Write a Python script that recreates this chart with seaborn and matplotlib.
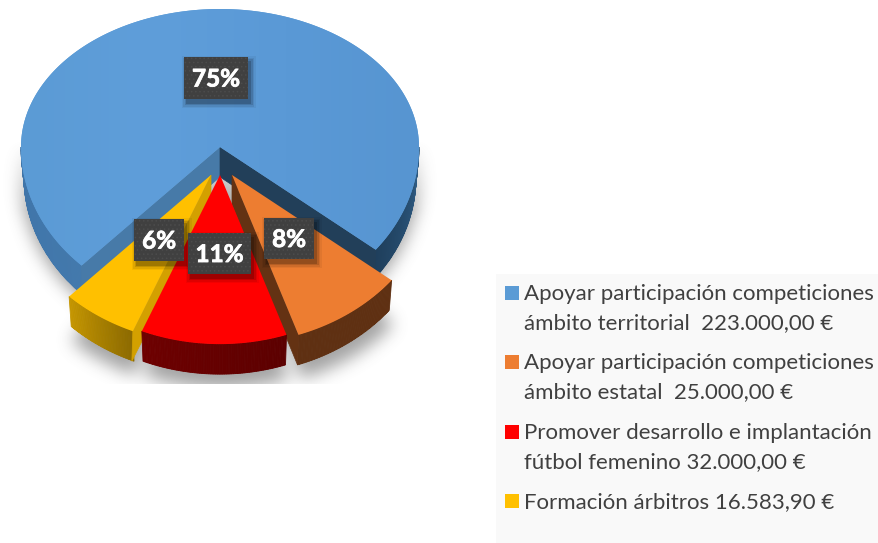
import numpy as np
import matplotlib
matplotlib.use('Agg')
import matplotlib.pyplot as plt
import matplotlib.colors as mc
import matplotlib.patheffects as pe
from matplotlib.path import Path
from matplotlib.patches import Polygon, Rectangle
import seaborn as sns

# Data
labels = ['Apoyar participación competiciones\námbito territorial  223.000,00 €',
          'Apoyar participación competiciones\námbito estatal  25.000,00 €',
          'Promover desarrollo e implantación\nfútbol femenino 32.000,00 €',
          'Formación árbitros 16.583,90 €']
values = [223000.00, 25000.00, 32000.00, 16583.90]
colors = ['#5B9BD5', '#ED7D31', '#FF0000', '#FFC000']

# Layout (pixels of the reference)
W, H = 879, 543
RX, RY_BACK, RY_FRONT = 199, 138, 165
DEPTH = 30
START = 51.5   # angle of the blue edge on the right, measured from straight down
WARP = 1.07    # perspective widens the front slices a little
FRONT_SCALE = 1.025  # pulled out slices come closer, so they look bigger
apexes = [(220, 147), (232, 175), (220, 175), (211, 175)]
label_boxes = [(184, 57, 64, 42), (264, 218, 50, 41), (188, 233, 63, 41), (134, 219, 50, 42)]
legend_y = [293, 362, 432, 501]
text_col = '#404040'

sns.set_theme(style='white')
plt.rcParams['font.family'] = ['Lato', 'DejaVu Sans']

fig = plt.figure(figsize=(W / 100, H / 100), dpi=100)
ax = fig.add_axes([0, 0, 1, 1])
ax.set_xlim(0, W)
ax.set_ylim(H, 0)
ax.axis('off')


def arc(apex, t1, t2, n=120, scale=1.0, shrink=1.0, drop=0):
    t = np.radians(np.linspace(t1, t2, n))
    ry = np.where(np.cos(t) > 0, RY_FRONT, RY_BACK) * scale
    x = apex[0] + RX * scale * shrink * np.sin(t)
    y = apex[1] + ry * np.cos(t) + drop
    return np.column_stack([x, y])


def blur(img, passes=3, size=15):
    kernel = np.ones(size) / size
    for _ in range(passes):
        img = np.apply_along_axis(lambda r: np.convolve(r, kernel, mode='same'), 0, img)
        img = np.apply_along_axis(lambda r: np.convolve(r, kernel, mode='same'), 1, img)
    return img


def rim(apex, t1, t2, col1, col2, zorder, scale=1.0):
    # side wall of a slice, a strip of small quads shaded along the arc
    steps = max(int(abs(t2 - t1)), 2) * 2
    edges = np.linspace(t1, t2, steps + 1)
    c1, c2 = np.array(mc.to_rgb(col1)), np.array(mc.to_rgb(col2))
    for i in range(steps):
        top = arc(apex, edges[i], edges[i + 1], n=4, scale=scale)
        bottom = arc(apex, edges[i + 1], edges[i], n=4, scale=scale, shrink=0.985, drop=DEPTH)
        c = c1 + (c2 - c1) * i / max(steps - 1, 1)
        ax.add_patch(Polygon(np.vstack([top, bottom]), fc=c, ec=c, lw=0.6, zorder=zorder))


def wall(apex, end, col, zorder, scale=1.0):
    p = arc(apex, end, end, n=1, scale=scale)[0]
    pts = [apex, p, (p[0] - 1, p[1] + DEPTH), (apex[0], apex[1] + DEPTH)]
    ax.add_patch(Polygon(pts, fc=col, ec=col, lw=0.5, zorder=zorder))


# Slice angles come from the values
total = sum(values)
shares = [v / total for v in values]
ends = [START]
for s in shares[1:]:
    ends.append(ends[-1] - s * 360 * WARP)
orange = (ends[0], ends[1])
red = (ends[1], ends[2])
yellow = (ends[2], ends[3])
blue = (START, ends[3] + 360)

# Legend panel
ax.add_patch(Rectangle((496, 274), W - 496, H - 274, fc='#F9F9F9', ec='none', zorder=0))
for lab, col, y in zip(labels, colors, legend_y):
    ax.add_patch(Rectangle((505, y - 7), 14, 14, fc=col, ec='none', zorder=1))
    ax.text(524, y - 9, lab, fontsize=16, color=text_col, va='top', ha='left',
            linespacing=1.54, zorder=2)

# Soft shadow under the pie, the picture cuts it off near the bottom
yy, xx = np.mgrid[0:H, 0:W]
grid = np.column_stack([xx.ravel(), yy.ravel()])
shadow = np.zeros((H, W))
shadow[((xx - 218) / 200.0) ** 2 + ((yy - 172) / 175.0) ** 2 < 1] = 1.0
for ap, (a, b) in zip(apexes[1:], [orange, red, yellow]):
    poly = np.vstack([[ap], arc(ap, a, b, n=40, scale=FRONT_SCALE, drop=DEPTH + 12)])
    shadow[Path(poly).contains_points(grid).reshape(H, W)] = 1.0
shadow = blur(shadow, passes=3, size=16)
shadow[yy > 383] = 0
shadow *= np.clip((yy - 140) / 70.0, 0, 1)  # fades out going up the sides
rgba = np.zeros((H, W, 4))
rgba[..., :3] = 0.42
rgba[..., 3] = shadow * 0.62
ax.imshow(rgba, extent=(0, W, H, 0), aspect='auto', zorder=0.5, interpolation='bilinear')
ax.set_xlim(0, W)
ax.set_ylim(H, 0)

# Blue slice
rim(apexes[0], blue[0], 90, '#1F3F5C', '#2F5C84', 3)
rim(apexes[0], 270, blue[1], '#3F74A8', '#4379AD', 3)
wall(apexes[0], blue[1], '#477AA8', 4)
wall(apexes[0], blue[0], '#223F59', 4)
outline = np.vstack([[apexes[0]], arc(apexes[0], blue[0], blue[1], n=300)])
top = Polygon(outline, fc=colors[0], ec='none', zorder=5)
ax.add_patch(top)
grad = np.linspace(0, 1, 300)[None, :]
cmap = mc.LinearSegmentedColormap.from_list('b', ['#5B9BD5', '#5F9EDA', '#5A99D6', '#5795D1'])
im = ax.imshow(grad, cmap=cmap, extent=(20, 420, 290, 5), aspect='auto', zorder=5.1)
im.set_clip_path(top)
ax.set_xlim(0, W)
ax.set_ylim(H, 0)

# Yellow slice
rim(apexes[3], yellow[0], yellow[1], '#8C6A00', '#C49500', 6, FRONT_SCALE)
wall(apexes[3], yellow[0], '#D3A000', 6.1, FRONT_SCALE)
ax.add_patch(Polygon(np.vstack([[apexes[3]], arc(apexes[3], *yellow, scale=FRONT_SCALE)]),
                     fc=colors[3], ec='none', zorder=6.2))

# Orange slice
rim(apexes[1], orange[0], orange[1], '#5F3012', '#5F3012', 7, FRONT_SCALE)
wall(apexes[1], orange[1], '#643213', 7.1, FRONT_SCALE)
ax.add_patch(Polygon(np.vstack([[apexes[1]], arc(apexes[1], *orange, scale=FRONT_SCALE)]),
                     fc=colors[1], ec='none', zorder=7.2))

# Red slice
rim(apexes[2], red[0], red[1], '#5C0000', '#6E0000', 8, FRONT_SCALE)
ax.add_patch(Polygon(np.vstack([[apexes[2]], arc(apexes[2], *red, scale=FRONT_SCALE)]),
                     fc=colors[2], ec='none', zorder=8.2))

# Percent labels
plt.rcParams['hatch.linewidth'] = 0.6
for share, (x, y, w, h) in zip(shares, label_boxes):
    for grow, alpha in [(5, 0.05), (3.5, 0.08), (2, 0.12), (0.5, 0.18)]:
        ax.add_patch(Rectangle((x + 3 - grow, y + 4 - grow), w + 2 * grow, h + 2 * grow,
                               fc='black', ec='none', alpha=alpha, zorder=9))
    ax.add_patch(Rectangle((x, y), w, h, fc='#404040', ec='#4C4C4C', hatch='....', lw=0, zorder=10))
    t = ax.text(x + w / 2, y + h / 2 + 1, f'{share:.0%}', color='white', fontsize=17.5,
                fontweight='bold', ha='center', va='center', zorder=11)
    t.set_path_effects([pe.withStroke(linewidth=0.6, foreground='white')])

fig.savefig('out.png', dpi=100)
